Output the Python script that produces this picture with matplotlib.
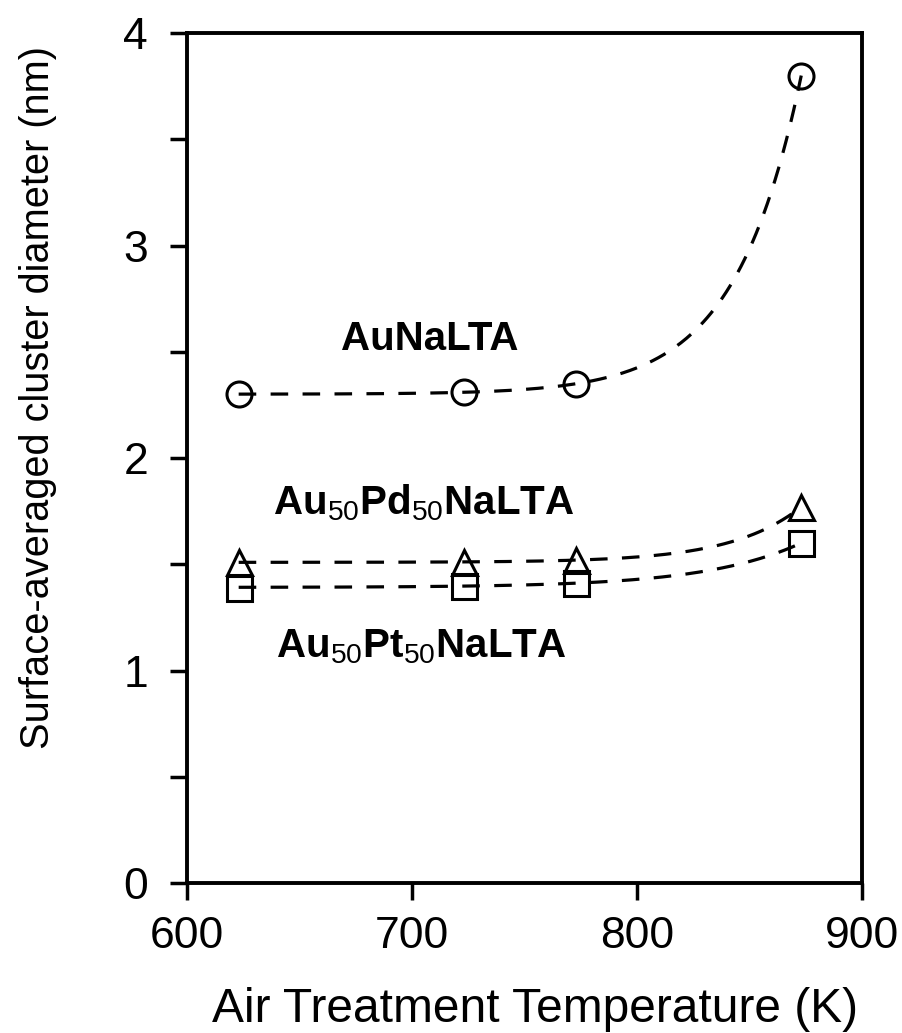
import numpy as np
import matplotlib
matplotlib.use("Agg")
import matplotlib.pyplot as plt

plt.rcParams['font.family'] = ['Liberation Sans', 'DejaVu Sans']
plt.rcParams['mathtext.fontset'] = 'custom'
plt.rcParams['mathtext.rm'] = 'Liberation Sans'
plt.rcParams['mathtext.it'] = 'Liberation Sans'
plt.rcParams['mathtext.bf'] = 'Liberation Sans:bold'

temps = [623, 723, 773, 873]
au = [2.30, 2.31, 2.35, 3.80]
aupd = [1.51, 1.51, 1.52, 1.77]
aupt = [1.39, 1.40, 1.41, 1.60]

labels = ["AuNaLTA", r"Au$_{50}$Pd$_{50}$NaLTA", r"Au$_{50}$Pt$_{50}$NaLTA"]
label_pos = [(708, 2.56), (705, 1.79), (704, 1.11)]
markers = ['o', '^', 's']
xticks = [600, 700, 800, 900]
yticks = [0, 1, 2, 3, 4]


def exp_fit(x, y):
    x = np.asarray(x, float)
    y = np.asarray(y, float)
    best = None
    for tau in np.linspace(5, 400, 2000):
        A = np.vstack([np.ones_like(x), np.exp((x - 873) / tau)]).T
        coef, *_ = np.linalg.lstsq(A, y, rcond=None)
        err = np.sum((A @ coef - y) ** 2)
        if best is None or err < best[0]:
            best = (err, tau, coef)
    _, tau, coef = best
    xs = np.linspace(x.min(), x.max(), 300)
    return xs, coef[0] + coef[1] * np.exp((xs - 873) / tau)


fig = plt.figure(figsize=(9.03, 10.33), dpi=100)
ax = fig.add_axes([0.207, 0.1452, 0.7476, 0.8228])

for ys, m in zip([au, aupd, aupt], markers):
    xs, fy = exp_fit(temps, ys)
    ax.plot(xs, fy, color='black', lw=2.3, dashes=(5.5, 4.5), zorder=2)
    ax.plot(temps, ys, linestyle='none', marker=m, markersize=18,
            markerfacecolor='none', markeredgecolor='black', markeredgewidth=2.2,
            zorder=3)

for txt, (tx, ty) in zip(labels, label_pos):
    ax.text(tx, ty, txt, fontsize=29, fontweight='bold', ha='center', va='center')

ax.set_xlim(600, 900)
ax.set_ylim(0, 4)
ax.set_xticks(xticks)
ax.set_yticks(yticks)
ax.set_yticks(np.arange(0.5, 4, 1.0), minor=True)
ax.tick_params(axis='both', which='both', direction='out', length=12, width=2.5,
               labelsize=32)
ax.tick_params(axis='x', which='both', pad=12)
ax.tick_params(axis='y', which='both', pad=16)
for s in ax.spines.values():
    s.set_linewidth(2.8)

ax.set_xlabel("Air Treatment Temperature (K)", fontsize=34.5)
ax.set_ylabel("Surface-averaged cluster diameter (nm)", fontsize=28.6)
ax.xaxis.set_label_coords(0.515, -0.122)
ax.yaxis.set_label_coords(-0.193, 0.571)

fig.savefig("out.png", dpi=100)
